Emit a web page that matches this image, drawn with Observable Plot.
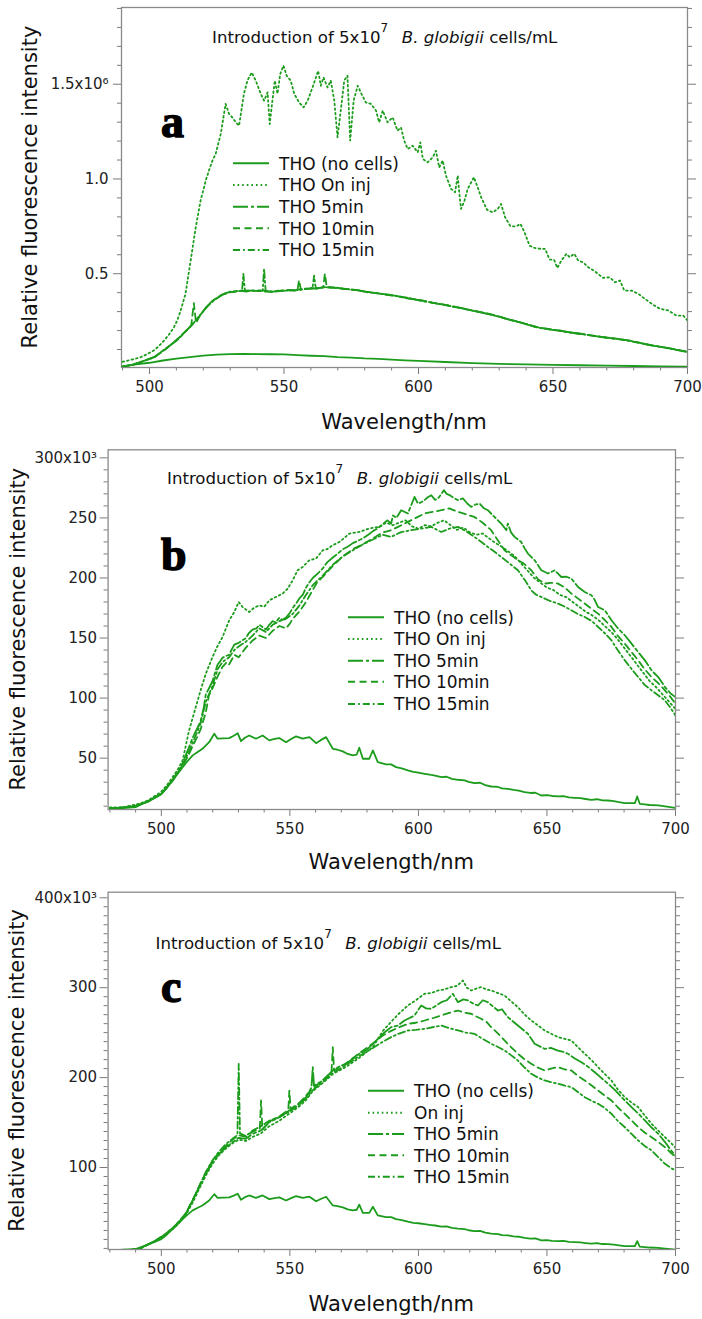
<!DOCTYPE html>
<html><head><meta charset="utf-8">
<script src="https://cdn.jsdelivr.net/npm/d3@7"></script>
<script src="https://cdn.jsdelivr.net/npm/@observablehq/plot@0.6"></script>
<style>
html,body{margin:0;padding:0;background:#fff;}
#wrap{position:relative;width:702px;height:1319px;overflow:hidden;background:#fff;}
.panel{position:absolute;left:0;}
</style></head><body><div id="wrap"></div>
<script>
// ---------------- DATA ----------------
// Panel a values in units of 1e6, panels b and c in units of 1e3; x = wavelength (nm)
const legendAB = ["THO (no cells)", "THO On inj", "THO 5min", "THO 10min", "THO 15min"];
const legendC  = ["THO (no cells)", "On inj", "THO 5min", "THO 10min", "THO 15min"];

const aTicksMajor = [0.5, 1.0, 1.5];
const bTicksMajor = [50, 100, 150, 200, 250, 300];
const cTicksMajor = [100, 200, 300, 400];
const xTicksMajor = [500, 550, 600, 650, 700];

const aNoCells = [[490,0.010],[495,0.022],[500,0.030],[505,0.042],[510,0.052],[515,0.060],[520,0.068],[525,0.073],[530,0.076],[535,0.077],[540,0.076],[545,0.075],[550,0.074],[555,0.070],[560,0.067],[565,0.065],[570,0.060],[575,0.057],[580,0.053],[585,0.051],[590,0.047],[595,0.043],[600,0.040],[610,0.034],[620,0.028],[630,0.024],[640,0.021],[650,0.019],[660,0.017],[670,0.015],[680,0.013],[690,0.011],[700,0.009]];

const aOnInj = [[490,0.035],[493,0.045],[496.7,0.059],[499,0.075],[501.6,0.095],[503.5,0.118],[505.4,0.147],[507.3,0.180],[509.1,0.217],[510.5,0.260],[511.6,0.306],[513.4,0.394],[515.3,0.569],[517.2,0.745],[519,0.886],[520.9,0.991],[522.1,1.044],[523.4,1.097],[524.6,1.132],[526.5,1.238],[528.3,1.396],[529.6,1.343],[530.8,1.325],[532.1,1.299],[533.3,1.281],[535.1,1.449],[536.4,1.519],[538,1.562],[539.5,1.519],[541.4,1.449],[542.6,1.413],[543.9,1.457],[544.7,1.290],[545.7,1.413],[546.6,1.519],[547.6,1.450],[548.6,1.554],[549.8,1.598],[551,1.545],[552.5,1.519],[553.8,1.450],[555.6,1.404],[557.3,1.378],[558.8,1.413],[560.6,1.483],[562.7,1.571],[563.7,1.492],[564.7,1.536],[566.2,1.483],[567.4,1.519],[568.7,1.413],[569.9,1.220],[571.1,1.361],[572.4,1.519],[573.6,1.545],[574.6,1.203],[575.9,1.413],[577.4,1.492],[578.8,1.449],[580.4,1.404],[582.3,1.396],[584.2,1.361],[585.4,1.299],[586.7,1.361],[588.5,1.299],[590.4,1.325],[592.2,1.255],[593.5,1.272],[594.7,1.202],[596,1.158],[597.8,1.176],[599.7,1.141],[600.7,1.193],[601.6,1.106],[603.4,1.088],[605.3,1.114],[606.5,1.149],[607.7,1.061],[609,1.097],[610.2,1.018],[612.1,0.948],[613.6,0.930],[614.6,1.018],[615.2,0.921],[615.8,0.842],[617.1,0.886],[618.3,0.948],[620.6,1.009],[622,0.956],[623.3,0.903],[625.5,0.837],[627.6,0.824],[629.5,0.842],[630.7,0.868],[632.2,0.798],[634.2,0.750],[636.3,0.750],[637.9,0.763],[639.4,0.719],[641.3,0.648],[643.1,0.636],[645.6,0.631],[647.1,0.631],[648.7,0.575],[650.4,0.573],[651.6,0.531],[653.1,0.569],[655,0.605],[656.2,0.587],[657.9,0.605],[659.4,0.569],[661.2,0.560],[663.1,0.534],[665.5,0.513],[668.6,0.478],[671.1,0.481],[673,0.455],[674.9,0.464],[676.5,0.411],[679.2,0.411],[681.7,0.394],[684.2,0.367],[686.7,0.341],[689.7,0.315],[692.8,0.306],[695.9,0.279],[698.4,0.279],[700,0.253]];

const a5min = [[490,0.010],[493,0.018],[496,0.030],[499,0.045],[502,0.062],[505,0.095],[508,0.125],[511,0.158],[514,0.205],[516,0.232],[518,0.268],[520,0.302],[522,0.337],[524,0.362],[526,0.380],[528,0.395],[530,0.405],[532,0.407],[534,0.410],[536,0.406],[538,0.412],[540,0.409],[542,0.413],[544,0.408],[546,0.405],[548,0.412],[550,0.410],[552,0.415],[554,0.411],[556,0.418],[558,0.421],[560,0.425],[562,0.420],[564,0.428],[566,0.430],[568,0.426],[570,0.425],[572,0.420],[574,0.418],[576,0.415],[578,0.412],[580,0.405],[583,0.400],[586,0.394],[589,0.388],[592,0.383],[595,0.372],[598,0.366],[601,0.358],[604,0.350],[607,0.342],[610,0.336],[613,0.325],[616,0.318],[619,0.308],[622,0.300],[625,0.290],[628,0.280],[631,0.270],[634,0.256],[637,0.246],[640,0.234],[643,0.220],[646,0.212],[649,0.205],[652,0.200],[655,0.192],[658,0.187],[661,0.181],[664,0.174],[667,0.168],[670,0.162],[673,0.157],[676,0.152],[679,0.145],[682,0.136],[685,0.126],[688,0.118],[691,0.112],[694,0.105],[697,0.095],[700,0.086]];

const a10min = [[490,0.010],[494,0.021],[498,0.040],[502,0.060],[506,0.103],[510,0.148],[513,0.190],[515.5,0.226],[516.5,0.345],[517.3,0.240],[519,0.285],[521,0.322],[523,0.352],[525,0.372],[527,0.390],[529,0.400],[531,0.404],[533,0.409],[537,0.410],[541,0.408],[545,0.404],[549,0.411],[553,0.413],[555,0.414],[555.6,0.465],[556.3,0.416],[559,0.420],[563,0.424],[564.6,0.428],[565.2,0.500],[565.9,0.429],[569,0.426],[573,0.419],[577,0.414],[581,0.404],[585,0.396],[589,0.389],[593,0.379],[597,0.368],[601,0.360],[605,0.347],[609,0.338],[613,0.327],[617,0.315],[621,0.303],[625,0.292],[629,0.278],[633,0.261],[637,0.247],[641,0.230],[645,0.215],[649,0.206],[653,0.198],[657,0.189],[661,0.182],[665,0.172],[669,0.164],[673,0.158],[677,0.150],[681,0.139],[685,0.127],[689,0.116],[693,0.107],[697,0.096],[700,0.088]];

const a15min = [[490,0.011],[494,0.020],[498,0.041],[502,0.061],[506,0.102],[510,0.150],[514,0.203],[518,0.266],[521,0.320],[524,0.360],[527,0.388],[530,0.403],[532,0.406],[534.4,0.410],[534.9,0.499],[535.5,0.410],[538,0.411],[542.1,0.410],[542.6,0.526],[543.2,0.409],[546,0.404],[550,0.410],[554,0.412],[557,0.417],[560.6,0.423],[561.2,0.490],[561.8,0.424],[565,0.428],[569,0.427],[573,0.420],[577,0.413],[581,0.402],[585,0.397],[589,0.387],[593,0.380],[597,0.370],[601,0.357],[605,0.348],[609,0.337],[613,0.326],[617,0.316],[621,0.302],[625,0.291],[629,0.277],[633,0.260],[637,0.246],[641,0.231],[645,0.214],[649,0.207],[653,0.199],[657,0.188],[661,0.180],[665,0.173],[669,0.165],[673,0.157],[677,0.149],[681,0.138],[685,0.127],[689,0.117],[693,0.106],[697,0.095],[700,0.087]];

// (no cells) spectrum is the same in panels b and c
const bcNoCells = [[480,7.8],[485,8.5],[490,9.2],[495,14.5],[500,20.3],[502,25],[504.4,31.4],[506,36],[508.3,42.5],[510,47],[512.2,52.3],[514,55],[516,57.8],[518.6,63.3],[520.6,70.3],[521.9,66.2],[524,66.5],[526.4,66.7],[528,68.5],[529.7,70.8],[531,64.2],[532.5,67],[534.2,68.9],[536.8,66.2],[539.4,68.9],[542,64.8],[544,66],[545.9,66.7],[548.5,63.3],[550.5,66],[552.4,68.1],[555,66.2],[557.6,67.5],[560.2,62.5],[562,65],[564.1,67.5],[566.7,57.8],[568.5,57],[570.6,55.6],[572.5,53.5],[574.5,52.3],[576,53],[577,58.7],[578.4,49.5],[580.9,49.5],[582.3,56.4],[584.2,46.7],[587.4,44.8],[589.4,44.8],[591.3,42.5],[593.5,41.5],[595.9,39.8],[598,38.5],[600,38],[602.4,37],[605,36],[606.5,35.5],[608.9,34.2],[611,34.5],[613,32.8],[615.4,32],[618,31.5],[619.5,30.2],[621.8,29.2],[624,29.5],[626,27.5],[628.3,26.4],[631,26],[632.5,24.8],[634.8,24.5],[637,23.5],[639,23],[641.3,21.7],[643.5,21],[645.5,21.2],[647.8,18.9],[650,19.3],[652,18.5],[654.3,18.1],[656.5,18.4],[658.5,17.3],[660.8,17],[663,16.7],[665,16],[667.3,15.3],[669.5,15.8],[671.5,14.9],[673.8,14.75],[676,14.3],[678,13.4],[680.3,12.5],[682.5,12.6],[684.2,12.5],[685.1,18.1],[686.1,12],[688,11.5],[690,11],[693.3,10.6],[696,9.8],[698,9.2],[700,8.6]];

const bOnInj = [[480,9],[485,9],[491.4,12],[495,15],[499.8,21.7],[502,27],[504.4,34.2],[506.5,41],[508.3,48.1],[510.8,73.1],[513.4,92.5],[515.5,108],[517.3,120.3],[519.9,134.2],[521.8,143],[523.8,150.8],[526.4,164.7],[528.4,171.7],[530.1,180],[531.6,175.8],[534.2,171.7],[536,175],[538.1,177.3],[540,176],[542,181.4],[544.6,184.2],[547.2,187],[549.2,191.2],[551.1,198.1],[553,206.4],[555,209.2],[557.6,214.8],[560.2,216.2],[562.8,223.1],[564.5,224],[566.7,227.3],[569.3,230],[571,233],[573.2,237],[577,238.3],[580.9,241.2],[584.8,242.5],[587.5,246],[590,243.9],[592.5,246],[595,248],[597.5,243],[600,241],[602.5,244],[605,243],[607.5,246],[610,248],[612.5,244],[615,240],[617.5,242],[620,238],[622.5,236],[625,237],[627.5,233],[630,229],[632.5,226],[635,222],[637.5,218],[640,212],[642.5,206],[645,200],[647.5,196],[650,192],[652.5,190],[655,186],[657.5,184],[660,180],[662.5,176],[665,172],[667.5,169],[670,165],[672.5,160],[675,155],[677.5,149],[680,142],[682.5,135],[685,128],[687.5,121],[690,114],[692.5,109],[695,103],[697.5,97],[700,91]];

const b5min = [[480,8],[485,9],[490,10.5],[495,14],[500,20],[502,25],[504.4,32],[506.5,38],[508.3,46],[510,55],[512.2,67],[514,75],[515.3,81],[516.5,92],[517.3,103],[518.5,108],[519.9,114],[521,122],[521.9,128],[523,131],[523.8,133.5],[525,135],[526.4,136],[527.5,141],[528.4,144.5],[530.1,146],[531.5,148],[532.9,150],[534,154],[535.5,157],[537,158],[538.1,161],[539.5,159],[540.7,157],[542,161],[543.3,164],[544.5,163],[545.9,167],[547,165],[548.5,167],[550,171],[551.1,175],[552.5,179],[553.7,183],[555,186],[556.3,192],[557.5,196],[558.9,200],[561,204],[562.8,208],[564.5,213],[566.7,217],[568.5,220],[570.6,224],[572.5,226],[574.5,229],[576.5,231],[578.4,233],[580.5,236],[582.3,239],[584,241],[586.2,245],[588,248],[589.4,245.3],[590.1,252],[591.5,250],[593.3,256.4],[595.9,253.7],[598.5,267.5],[599.8,262],[601,263],[602.4,264.8],[603.5,267],[605,268.9],[606.5,265],[607.6,266.2],[609,270],[609.9,273.1],[611,270],[612.1,269],[613.5,267],[615.4,264.8],[617.3,266.2],[619,262],[620.5,259.2],[622,261],[623.8,262],[625.5,258],[627,256.4],[629.6,250.8],[632.2,245.3],[634.2,239.8],[634.8,245.3],[636,238],[637.4,234.2],[640,230],[641.5,224],[642.6,220.3],[645.2,214.8],[647.8,206.4],[650.4,203.7],[653,206.4],[655.6,200.8],[657.5,201],[659.5,199.5],[662.1,192.5],[664.7,188.3],[667.3,185.6],[668.5,182],[669.9,175.8],[672.5,173.1],[675.1,164.8],[677.7,157.8],[680.3,152.3],[682.9,145.3],[685.5,138.3],[688.1,131.4],[690.7,123],[693.3,117.5],[695.9,109.2],[698,104],[700,100.8]];

const b10min = [[480,8],[490,10],[495,14],[500,20],[504.4,31],[508.3,44],[510,50],[512.2,60],[514,68],[515.3,74],[517.3,88],[518.5,102],[519.9,108],[521.9,118],[523.8,126],[525.5,130],[526.4,128],[528.4,136],[530.1,134],[532.9,142],[535.5,148],[538.1,152],[540.7,150],[543.3,156],[545.9,160],[548.5,158],[550,162],[551.1,166],[553.7,172],[556.3,180],[558.9,190],[560.5,196],[562.8,201],[566.7,210],[570.6,218],[574.5,224],[578.4,228],[582.3,233],[586.2,238],[589.4,239.8],[592.5,243],[595.9,246.7],[599,250],[602.4,253.7],[605.5,255],[608.9,256.4],[612,258],[615.4,255],[618.5,253],[621.8,250.8],[625,246],[628.3,239.8],[631,231],[633.5,223.1],[636,219],[638.7,214.8],[641,212],[643.9,206.4],[646.5,199],[649.1,195.3],[651.5,196],[654.3,195.3],[657,192],[659.5,187],[662,183],[664.7,178.7],[667.5,174],[669.9,170.3],[672.5,165],[675.1,159.2],[677.5,152],[680.3,145.3],[683,138],[685.5,131.4],[688,124],[690.7,117.5],[693.5,112],[695.9,106.4],[698,101],[700,95.3]];

const b15min = [[480,8],[490,10],[495,14],[500,20.5],[504.4,32],[508.3,45],[510,52],[512.2,63],[514,72],[515.3,79],[517.3,97],[519.9,110],[521.9,124],[523.8,130],[526.4,134],[528.4,140],[530.1,143],[532.9,147],[535.5,152],[538.1,158],[540.7,155],[543.3,161],[545.9,164],[548.5,166],[551.1,170],[553.7,177],[556.3,186],[558.9,194],[562.8,202],[566.7,211],[570.6,218],[574.5,223],[578.4,228],[582.3,232],[586.2,236],[589.4,234.2],[593,238],[597.2,239.8],[601,241],[605,242.5],[608.9,238.3],[612,241],[615.4,242.5],[618.5,239],[621.8,234.2],[624.5,230],[627,225.8],[629.5,222],[632.2,217.5],[635.5,212],[638.7,206.4],[641.5,198],[643.9,189.7],[645.8,186],[647.8,184.2],[651,181],[654.3,178.7],[657,176],[659.5,173.1],[662,170],[664.7,167.5],[667.5,164],[669.9,159.2],[672.5,154],[675.1,148.1],[677.5,140],[680.3,131.4],[683,124],[685.5,117.5],[688,111],[690.7,106.4],[693.5,102],[695.9,98],[698,92],[700,85.6]];

const cOnInj = [[485,7.7],[491.4,9.5],[497.9,18.5],[501.8,25.5],[505.6,34.5],[509.5,47],[512.2,61],[514.7,76],[517.3,91],[519.9,104],[522.5,114],[525.1,121],[527.7,127],[530.1,131],[532.9,129.5],[535.5,134],[538.8,138],[542,146],[545.9,152],[549.8,160],[553.7,168],[556.3,175],[558.9,185],[562.8,194],[566.7,204],[571.9,212],[577,222],[582.3,234],[586.2,252],[589.4,262],[592,270],[595.9,280.2],[599,286],[602.4,293.2],[605,294],[607.6,296.9],[610,298],[612.8,300.6],[615,302],[617.3,308],[618.8,300],[620.5,296.9],[622.5,299],[624.4,300.6],[626.5,298],[628.3,296.9],[631,294],[633.5,291.3],[636,285],[638.7,278.3],[641,271],[643.9,263.5],[646.5,258],[649.1,252.4],[651.5,249],[654.3,245],[657,243],[659.5,241.3],[662,234],[664.7,226.5],[667.5,219],[669.9,211.6],[672.5,204],[675.1,196.8],[677.5,187],[680.3,178.2],[683,172],[685.5,167.1],[688,158],[690.7,148.6],[693.3,141],[695.9,133.7],[698,128],[699.8,122.6]];

const c5min = [[485,7.7],[491.4,9.5],[497.9,18.8],[501.8,26.2],[505.6,35.5],[509.5,48.5],[512.2,63.3],[514.7,78.1],[517.3,93],[519.9,105.9],[522.5,115.2],[525.1,122.6],[527.7,128],[530.1,133],[532.9,131.9],[535.5,137.5],[538.8,141.2],[542,150.4],[545.9,156],[549.8,163.4],[553.7,170.9],[556.3,178.2],[558.4,189],[558.9,211.6],[559.4,191],[562.8,196.8],[566.7,207.9],[569,212],[571.9,215.3],[574.5,221],[577,226.5],[580,231],[582.3,237.6],[586.2,248.7],[589.4,256.1],[592,258],[594.6,263.5],[598.5,269.1],[601.1,280.2],[603,277],[605,276.5],[608.9,283.9],[611,286],[613.4,293.2],[615.4,283.9],[617.5,287],[619.3,285.8],[621.5,282],[623.2,280.2],[625,286],[627,283.9],[630.9,274.6],[632.5,276],[634.8,267.2],[638.7,257.9],[642.6,248.7],[645.2,237.6],[647,235],[649.1,232],[651.5,233],[654.3,230.1],[656,229],[658.2,226.5],[661,221],[663.4,217.1],[666,212],[668.6,206],[671,200],[673.8,193.1],[676.5,186],[679,178.2],[680.5,174],[682.9,167.1],[685.5,160],[688.1,152.3],[690.5,145],[693.3,137.5],[696,128],[698,120],[700,113.3]];

const c10min = [[485,7.7],[491.4,9.5],[497.9,19],[501.8,26.5],[505.6,36],[509.5,49],[512.2,64],[514.7,79],[517.3,94],[519.9,107],[522.5,117],[525.1,124],[527.7,131],[530.1,136],[532.9,134],[535.5,140],[538.3,143],[538.8,174.5],[539.3,142],[542,151],[545.9,157],[549.4,164],[549.8,185.6],[550.3,165],[553.7,172],[556.3,180],[558.9,188],[562.8,197],[566.2,206],[566.7,233.8],[567.2,208],[571.9,216],[577,227],[582.3,238],[586.2,247],[589.4,252],[592.5,256],[595.9,259.8],[599,261],[602.4,263.5],[605.5,266],[608.9,269.1],[612,272],[615.4,274.6],[618,272],[620.5,271],[622.5,268],[624.4,265.4],[626.5,262],[628.3,256.1],[631,249],[633.5,241.3],[636,234],[638.7,226.5],[641,221],[643.9,215.3],[646.5,211],[649.1,207.9],[651.5,210],[654.3,211.6],[657,209],[659.5,207.9],[662,202],[664.7,196.8],[667.5,191],[669.9,185.6],[672.5,180],[675.1,174.5],[677.5,167],[680.3,159.7],[683,152],[685.5,144.8],[688,139],[690.7,133.7],[693.5,128],[695.9,122.6],[698,117],[700,111.5]];

const c15min = [[485,7.7],[491.4,9.5],[497.9,18.8],[501.8,26],[505.6,35.5],[509.5,48.5],[512.2,63.5],[514.7,79],[517.3,95],[519.9,108],[522.5,118],[525.1,126],[527.7,132],[529.6,136],[530.1,215.3],[530.6,138],[532.9,135],[535.5,141],[538.8,146],[542,152],[545.9,156],[549.8,162],[553.7,170],[556.3,177],[558.9,186],[562.8,195],[566.7,205],[571.9,214],[577,224],[582.3,233],[586.2,240],[589.4,245],[592.5,249],[595.9,252.4],[599,253],[602.4,254.3],[605.5,256],[608.9,257.9],[612,255],[615.4,252.4],[618.5,250],[621.8,248.7],[625,243],[628.3,237.6],[631,234],[633.5,230.1],[636,225],[638.7,219],[641,212],[643.9,204.2],[646.5,200],[649.1,196.8],[651.5,195],[654.3,193.1],[657,191],[659.5,189.4],[662,184],[664.7,178.2],[667.5,174],[669.9,170.9],[672.5,166],[675.1,159.7],[677.5,152],[680.3,144.8],[683,137],[685.5,130],[688,124],[690.7,118.9],[693.5,111],[695.9,104.1],[698,100],[699.8,96.7]];

// ---------------- STYLE / LAYOUT ----------------
const GREEN = "#1c9c1c";
const DASHES = [null, "1.6,3", "15,3,3,3", "7,4.5", "7,3,1.8,3"];
const FONT = "DejaVu Sans";

const panels = [
  { letter: "a", top: 0, height: 440, mt: 7, mb: 73, ml: 121, mr: 15,
    xDomain: [489.6, 700], yDomain: [0.005, 1.905],
    yMajor: aTicksMajor, yMinorStep: 0.1, topLabel: "1.5x10\u2076", fmt: d => d.toFixed(1),
    series: [aNoCells, aOnInj, a5min, a10min, a15min], legend: legendAB,
    titleX: 212, titleY: 43, letterX: 161, letterY: 137, legX: 233, legY: [163.3,185,206.7,228.3,250],
    ylabX: 29, xlabY: 429, tickPad: 5 },
  { letter: "b", top: 440, height: 440, mt: 9.3, mb: 71, ml: 107.6, mr: 27,
    xDomain: [479.3, 700], yDomain: [7.25, 306.7],
    yMajor: bTicksMajor, yMinorStep: 10, topLabel: "300x10\u00b3", fmt: d => String(d),
    series: [bcNoCells, bOnInj, b5min, b10min, b15min], legend: legendAB,
    titleX: 167, titleY: 44, letterX: 161, letterY: 130, legX: 348, legY: [177.3,199,220.7,241.7,264],
    ylabX: 17.5, xlabY: 429, tickPad: 3 },
  { letter: "c", top: 880, height: 439, mt: 11.7, mb: 70, ml: 107.6, mr: 27,
    xDomain: [479.3, 700], yDomain: [8.8, 406.2],
    yMajor: cTicksMajor, yMinorStep: 10, topLabel: "400x10\u00b3", fmt: d => String(d),
    series: [bcNoCells, cOnInj, c5min, c10min, c15min], legend: legendC,
    titleX: 155.6, titleY: 69, letterX: 161, letterY: 121.7, legX: 368, legY: [210.7,232.7,254,275.3,296.7],
    ylabX: 16.6, xlabY: 431, tickPad: 3 }
];

function range(a, b, step) { const r = []; for (let v = a; v <= b + 1e-9; v += step) r.push(+v.toFixed(6)); return r; }

const wrap = document.getElementById("wrap");
for (const p of panels) {
  const yMax = p.yMajor[p.yMajor.length - 1];
  const yMinor = range(p.yMinorStep, p.yDomain[1], p.yMinorStep).filter(v => v >= p.yDomain[0] && !p.yMajor.some(m => Math.abs(m - v) < 1e-6));
  const xMinor = range(480, 700, 10).filter(v => v >= p.xDomain[0] && !xTicksMajor.includes(v));
  const tickCol = "#7a7a7a";
  const marks = [
    Plot.axisY(yMinor, {anchor: "left", tickSize: 4, stroke: tickCol, tickFormat: () => "", label: null}),
    Plot.axisY(yMinor, {anchor: "right", tickSize: 4, stroke: tickCol, tickFormat: () => "", label: null}),
    Plot.axisY(p.yMajor, {anchor: "right", tickSize: 8, stroke: tickCol, tickFormat: () => "", label: null}),
    Plot.axisY(p.yMajor, {anchor: "left", tickSize: 8, tickPadding: p.tickPad, stroke: tickCol, fill: "#222",
      tickFormat: d => d === yMax ? p.topLabel : p.fmt(d), label: null, fontSize: 15}),
    Plot.axisX(xMinor, {anchor: "bottom", tickSize: 3.5, stroke: tickCol, tickFormat: () => "", label: null}),
    Plot.axisX(xTicksMajor, {anchor: "bottom", tickSize: 7, tickPadding: 7, stroke: tickCol, fill: "#222",
      label: null, fontSize: 15}),
    Plot.frame({stroke: "#8a8a8a", strokeWidth: 1.3})
  ];
  p.series.forEach((s, i) => {
    marks.push(Plot.line(s, {x: d => d[0], y: d => d[1], stroke: GREEN, strokeWidth: 1.8,
      strokeDasharray: DASHES[i] || undefined, clip: true}));
  });
  const svg = Plot.plot({
    width: 702, height: p.height,
    marginTop: p.mt, marginBottom: p.mb, marginLeft: p.ml, marginRight: p.mr,
    x: {domain: p.xDomain},
    y: {domain: p.yDomain},
    style: {fontFamily: FONT, fontSize: "15px", background: "#fff", overflow: "visible"},
    marks
  });
  const div = document.createElement("div");
  div.className = "panel";
  div.style.top = p.top + "px";
  div.appendChild(svg);
  wrap.appendChild(div);

  const g = d3.select(svg).append("g").attr("font-family", FONT).attr("text-anchor", "start");
  // title
  const t = g.append("text").attr("x", p.titleX).attr("y", p.titleY).attr("font-size", 16.6).attr("fill", "#111");
  t.append("tspan").text("Introduction of 5x10");
  t.append("tspan").attr("dy", -11).attr("font-size", 12).text("7");
  t.append("tspan").attr("dy", 11).text("\u2002 ");
  t.append("tspan").attr("font-style", "italic").text("B. globigii");
  t.append("tspan").text(" cells/mL");
  // panel letter
  g.append("text").attr("x", p.letterX).attr("y", p.letterY)
    .attr("font-family", "Liberation Serif").attr("font-weight", "bold").attr("font-size", 46)
    .attr("fill", "#000").attr("stroke", "#000").attr("stroke-width", 1.4).text(p.letter);
  // legend
  p.legend.forEach((lab, i) => {
    const y = p.legY[i];
    const ln = g.append("line").attr("x1", p.legX).attr("x2", p.legX + 36).attr("y1", y).attr("y2", y)
      .attr("stroke", GREEN).attr("stroke-width", 1.9);
    if (DASHES[i]) ln.attr("stroke-dasharray", DASHES[i]);
    g.append("text").attr("x", p.legX + 46).attr("y", y + 6.2).attr("font-size", 17).attr("fill", "#111").text(lab);
  });
  // axis titles
  const fcx = p.ml + (702 - p.ml - p.mr) / 2;
  const fcy = p.mt + (p.height - p.mt - p.mb) / 2;
  g.append("text").attr("x", fcx).attr("y", p.xlabY).attr("text-anchor", "middle")
    .attr("font-size", 21).attr("fill", "#111").text("Wavelength/nm");
  g.append("text").attr("transform", `translate(${p.ylabX},${fcy}) rotate(-90)`).attr("text-anchor", "middle")
    .attr("dy", "0.36em").attr("font-size", 21).attr("fill", "#111").text("Relative fluorescence intensity");
}
</script></body></html>
